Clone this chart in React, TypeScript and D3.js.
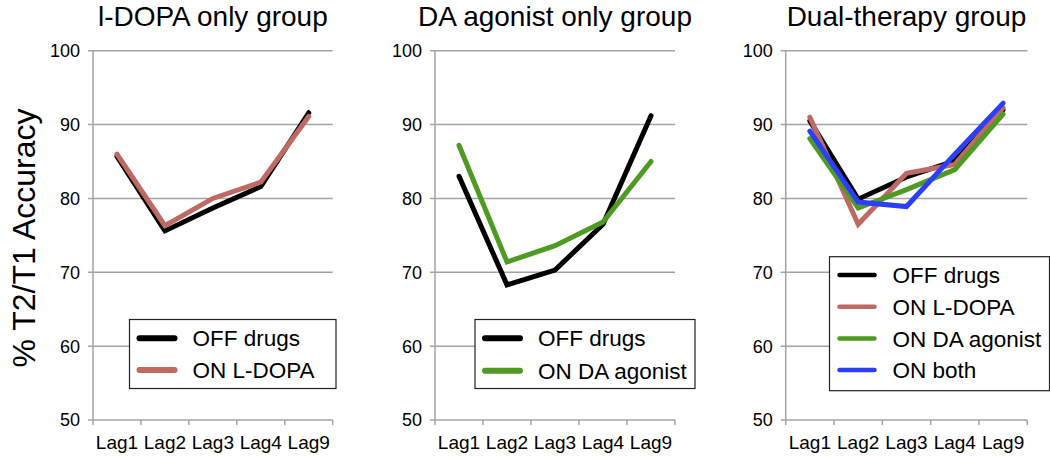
import React from "react";
import * as d3 from "d3";

const lags = ["Lag1", "Lag2", "Lag3", "Lag4", "Lag9"];
const yTicks = [50, 60, 70, 80, 90, 100];

const ldopaOff = [85.7, 75.6, 78.7, 81.6, 91.6];
const ldopaOn = [86.0, 76.3, 80.0, 82.2, 91.1];

const daOff = [83.0, 68.3, 70.3, 76.5, 91.2];
const daOn = [87.2, 71.4, 73.6, 76.8, 85.0];

const dualOff = [90.5, 79.9, 82.9, 85.1, 92.0];
const dualLdopa = [91.0, 76.5, 83.4, 84.6, 92.3];
const dualDa = [88.1, 78.7, 81.2, 83.9, 91.4];
const dualBoth = [89.1, 79.5, 78.9, 86.0, 92.9];

const titles = ["l-DOPA only group", "DA agonist only group", "Dual-therapy group"];
const yLabel = "% T2/T1 Accuracy";

const C_OFF = "#000000";
const C_LDOPA = "#be6a62";
const C_DA = "#4f9a22";
const C_BOTH = "#2a3ff7";

type Series = { name: string; values: number[]; color: string };

const panels: {
  title: string;
  x0: number;
  x1: number;
  series: Series[];
  legend: { x: number; y: number; w: number; h: number; lineW: number; rowH: number; firstY: number };
}[] = [
  {
    title: titles[0],
    x0: 93,
    x1: 332.7,
    series: [
      { name: "OFF drugs", values: ldopaOff, color: C_OFF },
      { name: "ON L-DOPA", values: ldopaOn, color: C_LDOPA },
    ],
    legend: { x: 129.5, y: 319.5, w: 206.5, h: 69, lineW: 6, rowH: 31.7, firstY: 338.3 },
  },
  {
    title: titles[1],
    x0: 435,
    x1: 675,
    series: [
      { name: "OFF drugs", values: daOff, color: C_OFF },
      { name: "ON DA agonist", values: daOn, color: C_DA },
    ],
    legend: { x: 475, y: 319.5, w: 220, h: 69, lineW: 6, rowH: 32.5, firstY: 338.3 },
  },
  {
    title: titles[2],
    x0: 785.7,
    x1: 1027.3,
    series: [
      { name: "OFF drugs", values: dualOff, color: C_OFF },
      { name: "ON L-DOPA", values: dualLdopa, color: C_LDOPA },
      { name: "ON DA agonist", values: dualDa, color: C_DA },
      { name: "ON both", values: dualBoth, color: C_BOTH },
    ],
    legend: { x: 829.5, y: 256.7, w: 220, h: 134, lineW: 4.5, rowH: 31.7, firstY: 275 },
  },
];

const Y_TOP = 50.7;
const Y_BOT = 420;
const FONT = "'Liberation Sans', Arial, Helvetica, sans-serif";
const GRID = "#a3a3a3";

function Panel({ p }: { p: (typeof panels)[number] }) {
  const y = d3.scaleLinear().domain([50, 100]).range([Y_BOT, Y_TOP]);
  const band = d3.scaleBand<string>().domain(lags).range([p.x0, p.x1]).padding(0);
  const xc = (l: string) => (band(l) as number) + band.bandwidth() / 2;
  const line = d3
    .line<number>()
    .x((_, i) => xc(lags[i]))
    .y((v) => y(v));
  const tickXs = [...lags.map((l) => band(l) as number), p.x1];
  const lg = p.legend;
  return (
    <g>
      <text
        x={(p.x0 + p.x1) / 2}
        y={26}
        textAnchor="middle"
        fontSize={28}
        fontFamily={FONT}
        fill="#000"
      >
        {p.title}
      </text>
      {yTicks.map((t) => (
        <g key={t}>
          <line x1={p.x0 - 5} x2={p.x1} y1={y(t)} y2={y(t)} stroke={GRID} strokeWidth={1.5} />
          <text
            x={p.x0 - 13}
            y={y(t)}
            dy="0.36em"
            textAnchor="end"
            fontSize={18}
            fontFamily={FONT}
            fill="#000"
          >
            {t}
          </text>
        </g>
      ))}
      <line x1={p.x0} x2={p.x0} y1={Y_TOP} y2={Y_BOT} stroke={GRID} strokeWidth={1.5} />
      {tickXs.map((tx, i) => (
        <line key={i} x1={tx} x2={tx} y1={Y_BOT} y2={Y_BOT + 5} stroke={GRID} strokeWidth={1.5} />
      ))}
      {lags.map((l) => (
        <text
          key={l}
          x={xc(l)}
          y={449}
          textAnchor="middle"
          fontSize={19}
          fontFamily={FONT}
          fill="#000"
        >
          {l}
        </text>
      ))}
      {p.series.map((s) => (
        <path
          key={s.name}
          d={line(s.values) as string}
          fill="none"
          stroke={s.color}
          strokeWidth={5}
          strokeLinecap="round"
          strokeLinejoin="miter"
        />
      ))}
      <rect x={lg.x} y={lg.y} width={lg.w} height={lg.h} fill="#fff" stroke="#222" strokeWidth={1.2} />
      {p.series.map((s, i) => (
        <g key={s.name}>
          <line
            x1={lg.x + 10}
            x2={lg.x + 45}
            y1={lg.firstY + i * lg.rowH}
            y2={lg.firstY + i * lg.rowH}
            stroke={s.color}
            strokeWidth={lg.lineW}
            strokeLinecap="round"
          />
          <text
            x={lg.x + 63}
            y={lg.firstY + i * lg.rowH}
            dy="0.36em"
            fontSize={22.5}
            fontFamily={FONT}
            fill="#000"
          >
            {s.name}
          </text>
        </g>
      ))}
    </g>
  );
}

export default function App() {
  return (
    <svg
      width={1050}
      height={457}
      style={{ position: "absolute", left: 0, top: 0, background: "#fff" }}
    >
      <rect x={0} y={0} width={1050} height={457} fill="#fff" />
      <text
        transform="translate(35,238) rotate(-90)"
        textAnchor="middle"
        fontSize={32}
        fontFamily={FONT}
        fill="#000"
      >
        {yLabel}
      </text>
      {panels.map((p) => (
        <Panel key={p.title} p={p} />
      ))}
    </svg>
  );
}
